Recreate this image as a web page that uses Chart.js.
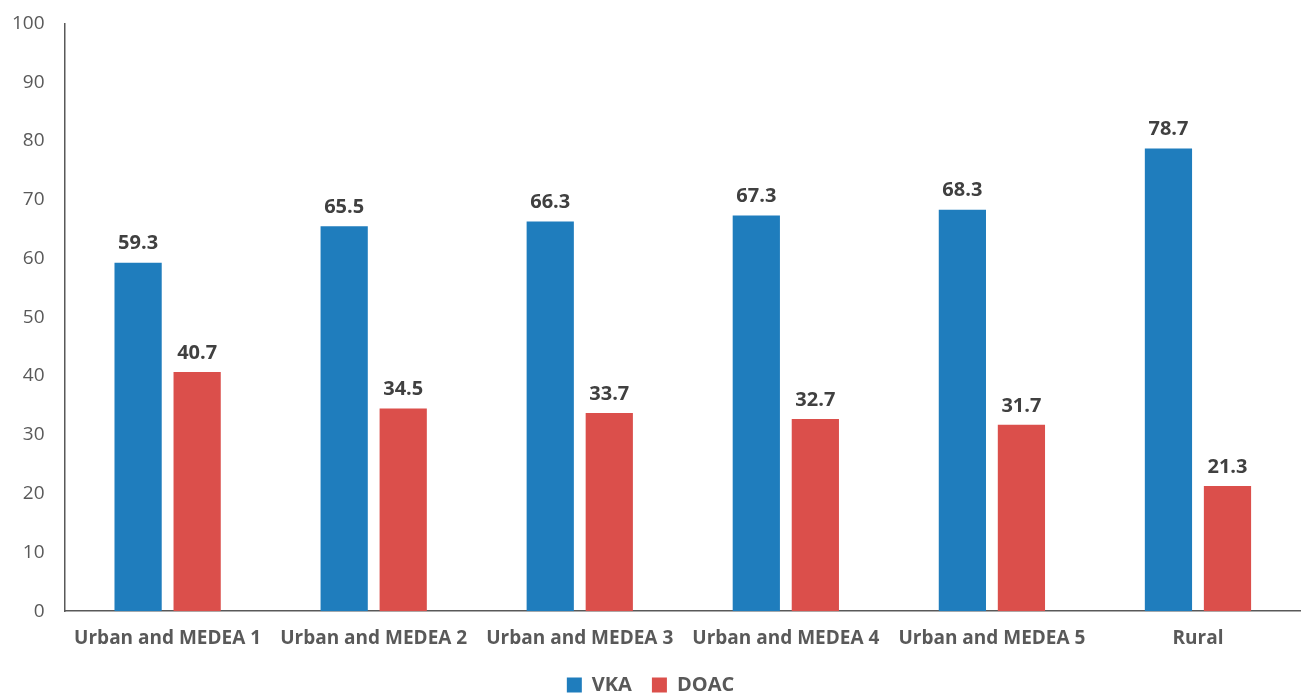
<!DOCTYPE html>
<html>
<head>
<meta charset="utf-8">
<script src="https://cdn.jsdelivr.net/npm/chart.js@4/dist/chart.umd.min.js"></script>
<style>
  html, body { margin: 0; padding: 0; background: #fff; }
  #wrap { width: 1301px; height: 695px; }
</style>
</head>
<body>
<div id="wrap"><canvas id="chartAnticoag"></canvas></div>
<script>
const categories = ["Urban and MEDEA 1", "Urban and MEDEA 2", "Urban and MEDEA 3", "Urban and MEDEA 4", "Urban and MEDEA 5", "Rural"];
const vkaValues = [59.3, 65.5, 66.3, 67.3, 68.3, 78.7];
const doacValues = [40.7, 34.5, 33.7, 32.7, 31.7, 21.3];
const yTicks = [0, 10, 20, 30, 40, 50, 60, 70, 80, 90, 100];

const fontFamily = "'Open Sans', 'Noto Sans', sans-serif";

// labels on top of bars
const barValueLabels = {
  id: "barValueLabels",
  afterDatasetsDraw(chart) {
    const ctx = chart.ctx;
    ctx.save();
    ctx.font = "bold 20px " + fontFamily;
    ctx.fillStyle = "#404040";
    ctx.textAlign = "center";
    ctx.textBaseline = "bottom";
    chart.data.datasets.forEach((ds, i) => {
      chart.getDatasetMeta(i).data.forEach((bar, j) => {
        ctx.fillText(ds.data[j].toFixed(1), bar.x, bar.y - 9);
      });
    });
    ctx.restore();
  }
};

const chartAnticoag = document.getElementById("chartAnticoag");

new Chart(chartAnticoag, {
  type: "bar",
  data: {
    labels: categories,
    datasets: [
      {
        label: "VKA",
        data: vkaValues,
        backgroundColor: "#1f7dbd",
        categoryPercentage: 0.573,
        barPercentage: 0.8
      },
      {
        label: "DOAC",
        data: doacValues,
        backgroundColor: "#db4f4b",
        categoryPercentage: 0.573,
        barPercentage: 0.8
      }
    ]
  },
  options: {
    responsive: true,
    maintainAspectRatio: false,
    animation: false,
    layout: { padding: { top: 4, right: 0, left: 0, bottom: -10 } },
    plugins: {
      legend: {
        position: "bottom",
        labels: {
          boxWidth: 15,
          boxHeight: 15,
          padding: 20,
          color: "#595959",
          font: { family: fontFamily, size: 20, weight: "bold" }
        }
      },
      tooltip: { enabled: false }
    },
    scales: {
      x: {
        grid: { display: false },
        border: { display: true, color: "#595959", width: 1.5 },
        afterFit: (scale) => { scale.height -= 3; },
        ticks: {
          color: "#595959",
          padding: 8,
          maxRotation: 0,
          font: { family: fontFamily, size: 19, weight: "bold" }
        }
      },
      y: {
        min: 0,
        max: 100,
        afterBuildTicks: (axis) => { axis.ticks = yTicks.map(v => ({ value: v })); },
        grid: { display: false },
        border: { display: true, color: "#595959", width: 1.5 },
        ticks: {
          color: "#595959",
          padding: 12,
          font: { family: fontFamily, size: 19 }
        }
      }
    }
  },
  plugins: [barValueLabels]
});
</script>
</body>
</html>
